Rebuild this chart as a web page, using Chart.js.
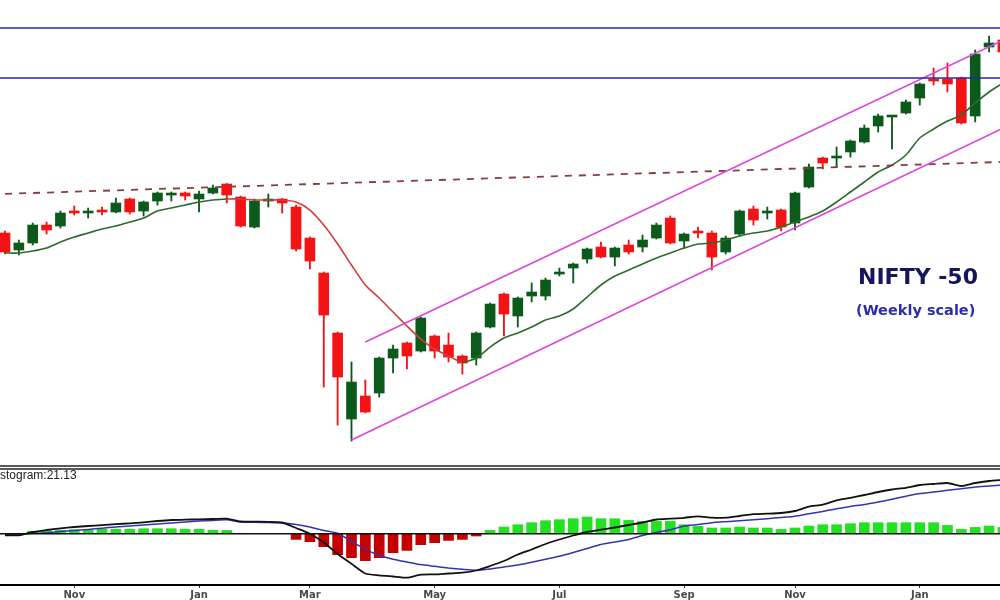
<!DOCTYPE html>
<html>
<head>
<meta charset="utf-8">
<script src="https://cdn.jsdelivr.net/npm/chart.js@4.4.0/dist/chart.umd.min.js"></script>
<style>
  html, body { margin: 0; padding: 0; background: #fff; }
  body { width: 1000px; height: 600px; position: relative; overflow: hidden; }
  #top { position: absolute; left: 0; top: 0; width: 1000px; height: 464px; }
  #sep { position: absolute; left: 0; top: 465px; width: 1000px; height: 0; border-top: 5px double #5a5a5a; }
  #bot { position: absolute; left: 0; top: 471px; width: 1000px; height: 129px; }
  .t { position: absolute; white-space: nowrap; z-index: 5; }
  #t1 { left: 858px; top: 266px; font: bold 22px/22px "DejaVu Sans", sans-serif; color: #16165e; }
  #t2 { left: 856px; top: 303px; font: bold 14.5px/14.5px "DejaVu Sans", sans-serif; color: #2d2dac; }
  #t3 { left: 0px; top: 469px; font: 12px/12px "Liberation Sans", Arial, sans-serif; color: #222; }
</style>
</head>
<body>
<div id="top"><canvas id="c1" width="1000" height="464"></canvas></div>
<div id="sep"></div>
<div id="bot"><canvas id="c2" width="1000" height="129"></canvas></div>
<div class="t" id="t1">NIFTY -50</div>
<div class="t" id="t2">(Weekly scale)</div>
<div class="t" id="t3">stogram:21.13</div>
<script>
// ---------- DATA (weekly candles, week index 0 = 30 Sep 2019) ----------
const open  = [11590,11255,11393,11747,11728,12023,11984,12023,12004,12260,12023,12220,12338,12378,12260,12378,12555,12299,11708,12220,12260,12102,11491,10802,9620,7926,8379,8438,9127,9423,9265,9561,9383,9167,9127,9738,10388,9955,10349,10349,10782,10900,11078,11314,11117,11353,11314,11491,11885,11432,11629,11590,11216,11570,12063,11984,12043,11787,12496,13067,13067,13186,13383,13698,13875,13954,14249,14624,14624,14643,13895,15254,15392];
const high  = [11629,11452,11787,11807,12023,12122,12082,12102,12279,12280,12220,12398,12398,12398,12417,12535,12565,12319,12260,12358,12270,12141,11511,10822,9640,9049,8694,9147,9383,9443,9935,9581,9620,9187,9640,10211,10408,10329,10605,10703,10900,10999,11294,11413,11314,11452,11550,11787,11925,11590,11708,11629,11530,12043,12122,12102,12063,12398,12949,13087,13284,13422,13717,13934,13905,14210,14545,14840,14939,14663,15195,15471,15490];
const low   = [11176,11156,11353,11570,11688,11944,11885,11944,11984,11964,11925,12141,12220,12240,12004,12358,12181,11708,11688,12102,11984,11235,10881,8556,7807,7492,8044,8359,8832,8911,9245,9127,9049,8812,8989,9718,9561,9738,10231,10270,10743,10605,10999,11097,10940,11176,11216,11471,11373,11294,11491,10861,11176,11530,11747,11866,11629,11649,12476,12851,12890,13087,13363,13580,13245,13934,14111,14506,14368,13737,13777,15156,15136];
const close = [11216,11393,11747,11649,11984,11984,12004,12004,12181,12004,12201,12378,12358,12319,12358,12476,12338,11728,12220,12260,12181,11275,11038,9974,8753,8655,8064,9127,9305,9167,9915,9265,9147,9029,9620,10191,9994,10309,10428,10664,10822,10979,11275,11117,11294,11216,11452,11747,11393,11570,11590,11117,11491,12023,11846,12023,11708,12378,12890,12969,13087,13402,13658,13895,13895,14171,14525,14584,14525,13757,15116,15333,15156];
// moving average (green above / red where price fell below)
const movingAvg = [11196,11196,11235,11294,11413,11511,11590,11669,11728,11807,11885,12023,12082,12141,12201,12240,12260,12260,12240,12240,12240,12201,12043,11747,11373,10960,10566,10309,10034,9758,9502,9305,9167,9049,9127,9344,9521,9620,9738,9876,9955,10093,10329,10566,10743,10861,10979,11097,11196,11294,11373,11393,11452,11530,11590,11629,11708,11807,11905,12023,12201,12398,12595,12792,12930,13127,13461,13639,13796,13915,14151,14368,14545];
const maRedFrom = 16, maRedTo = 33;
// drawn lines: [weekIndex, level]
const channelUpper = [[26, 9443], [72, 15388]];
const channelLower = [[25, 7512], [72, 13653]];
const dashedTrend  = [[-1, 12352], [72, 12991]];
const resistance1  = [[-1, 15628], [72, 15628]];
const resistance2  = [[-1, 14643], [72, 14643]];
// MACD panel
const macdLine   = [-16,-16,17,37,54,67,77,85,95,104,114,127,137,140,144,147,150,122,120,119,112,57,0,-88,-203,-301,-398,-416,-428,-440,-410,-407,-398,-390,-368,-323,-273,-208,-158,-103,-58,-18,17,40,62,87,112,142,150,159,174,160,160,177,195,200,207,227,270,290,334,359,387,417,442,459,487,497,507,477,507,527,539];
const signalLine = [-9,-3,4,9,21,31,42,55,67,77,87,97,108,117,126,133,139,117,114,112,107,91,67,32,4,-78,-156,-216,-256,-283,-309,-326,-343,-356,-366,-353,-333,-313,-286,-256,-226,-188,-148,-108,-83,-58,-18,12,39,77,92,110,120,129,140,150,162,175,199,222,250,273,292,317,344,375,401,417,434,450,467,477,487];
const histogram  = [0,0,25,30,35,40,40,45,45,45,50,50,50,45,45,35,33,0,0,0,0,-57,-80,-130,-210,-240,-270,-240,-190,-167,-110,-90,-67,-57,-23,33,67,90,110,130,140,150,167,150,150,133,123,123,123,90,73,57,57,67,57,57,43,57,77,90,90,100,110,110,110,110,110,110,83,43,63,77,63];
// month tick labels
const tickIdx = [5, 14, 22, 31, 40, 49, 57, 66];
const tickLbl = ['Nov', 'Jan', 'Mar', 'May', 'Jul', 'Sep', 'Nov', 'Jan'];

// ---------- STYLE ----------
const GREEN = '#0b5a1c', RED = '#f21414';
const MA_GREEN = '#2d6a2d', MA_RED = '#d23c3c';
const X_MIN = -0.36, X_MAX = 71.79;

const candleColor = open.map((o, i) => close[i] >= o ? GREEN : RED);
const bodies = open.map((o, i) => ({ x: i, y: [o, close[i]] }));
const wicks = open.map((o, i) => ({ x: i, y: [low[i], high[i]] }));
const pts = arr => arr.map(p => ({ x: p[0], y: p[1] }));
const series = arr => arr.map((v, i) => ({ x: i, y: v }));

const common = {
  responsive: false, animation: false, devicePixelRatio: 1, events: [],
  layout: { padding: 0 },
  plugins: { legend: { display: false }, tooltip: { enabled: false } }
};

new Chart(document.getElementById('c1'), {
  type: 'bar',
  data: { datasets: [
    { type: 'line', data: pts(resistance1), borderColor: '#2424b8', borderWidth: 1.6, pointRadius: 0, order: 0 },
    { type: 'line', data: pts(resistance2), borderColor: '#2424b8', borderWidth: 1.6, pointRadius: 0, order: 0 },
    { type: 'line', data: pts(channelUpper), borderColor: '#dd44dd', borderWidth: 1.6, pointRadius: 0, order: 0 },
    { type: 'line', data: pts(channelLower), borderColor: '#dd44dd', borderWidth: 1.6, pointRadius: 0, order: 0 },
    { type: 'line', data: pts(dashedTrend), borderColor: '#8a3d3d', borderWidth: 1.8, borderDash: [7, 7], pointRadius: 0, order: 1 },
    { type: 'line', data: series(movingAvg), borderColor: MA_GREEN, borderWidth: 1.6, pointRadius: 0, tension: 0.25,
      segment: { borderColor: c => (c.p0DataIndex >= maRedFrom && c.p0DataIndex < maRedTo) ? MA_RED : MA_GREEN }, order: 1 },
    { type: 'bar', data: bodies, backgroundColor: candleColor, barThickness: 10, grouped: false, minBarLength: 2, borderWidth: 0, order: 4 },
    { type: 'bar', data: wicks, backgroundColor: candleColor, barThickness: 1.2, grouped: false, borderWidth: 0, order: 5 }
  ]},
  options: Object.assign({}, common, {
    scales: {
      x: { type: 'linear', min: X_MIN, max: X_MAX, offset: false, bounds: 'data', display: false },
      y: { type: 'linear', min: 7040, max: 16180, display: false }
    }
  })
});

new Chart(document.getElementById('c2'), {
  type: 'bar',
  data: { datasets: [
    { type: 'line', data: [{ x: -1, y: 0 }, { x: 73, y: 0 }], borderColor: '#111', borderWidth: 1.6, pointRadius: 0, order: 0 },
    { type: 'line', data: series(macdLine), borderColor: '#111', borderWidth: 1.8, pointRadius: 0, tension: 0.2, order: 1 },
    { type: 'line', data: series(signalLine), borderColor: '#3434b0', borderWidth: 1.5, pointRadius: 0, tension: 0.2, order: 1 },
    { type: 'bar', data: series(histogram), backgroundColor: histogram.map(v => v >= 0 ? '#22e022' : '#c40000'),
      barThickness: 10, grouped: false, borderWidth: 0, order: 3 }
  ]},
  options: Object.assign({}, common, {
    scales: {
      x: { type: 'linear', min: X_MIN, max: X_MAX, offset: false, bounds: 'data', position: 'bottom',
        afterBuildTicks: ax => { ax.ticks = tickIdx.map(v => ({ value: v })); },
        afterFit: ax => { ax.height = 15; },
        ticks: { autoSkip: false, maxRotation: 0, minRotation: 0, padding: 1, color: '#4a4a4a',
          font: { family: 'DejaVu Sans', size: 10, weight: 'bold' },
          callback: v => { const k = tickIdx.indexOf(v); return k >= 0 ? tickLbl[k] : ''; } },
        grid: { display: true, offset: false, drawOnChartArea: false, drawTicks: true, tickLength: 3, color: '#333', lineWidth: 1 },
        border: { display: true, color: '#000', width: 2 }
      },
      y: { type: 'linear', min: -513, max: 627, display: false }
    }
  })
});
</script>
</body>
</html>
